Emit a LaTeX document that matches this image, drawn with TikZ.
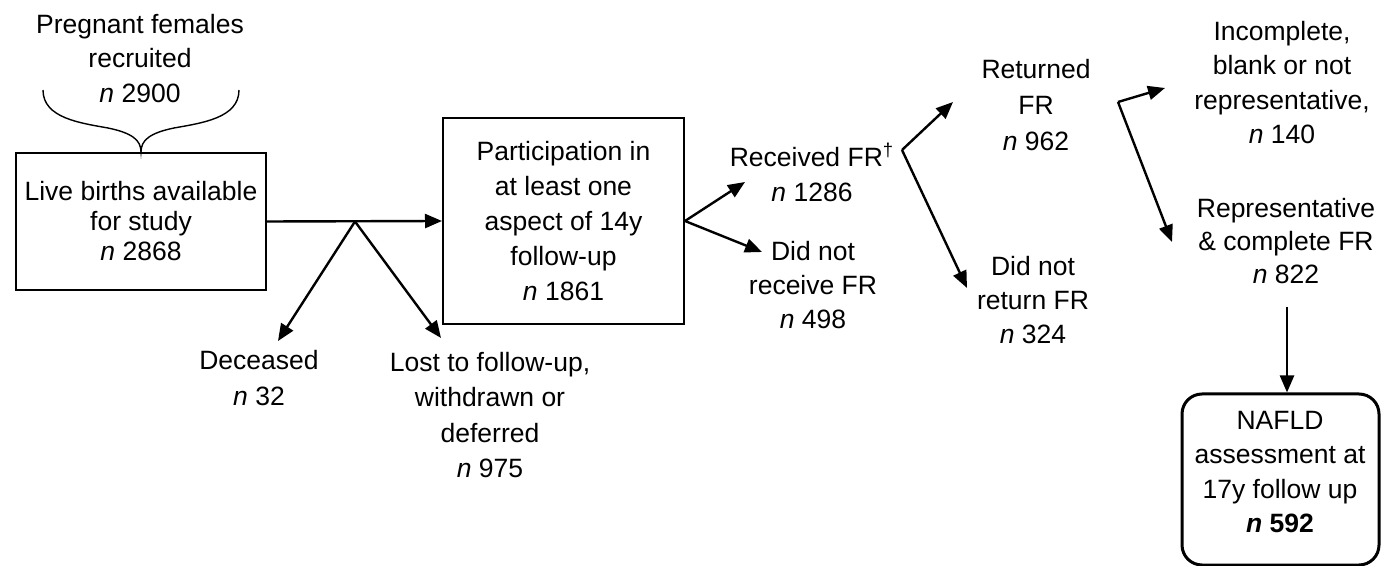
\documentclass[tikz,border=0pt]{standalone}
\usepackage{fontspec}
\setmainfont{Liberation Sans}
\usetikzlibrary{arrows.meta}
\begin{document}
\begin{tikzpicture}[x=0.5pt,y=-0.5pt,
  arr/.style={line width=1.2pt,-{Triangle[length=8.5pt,width=7pt]}},
  boxnode/.style={draw,line width=1pt,rectangle,inner sep=0pt,align=center},
  txt/.style={anchor=north,inner sep=0pt,align=center},
  bs/.style={font=\fontsize{13.25pt}{#1}\selectfont},
  brace/.style={line width=0.7pt}]
\useasboundingbox (0,0) rectangle (1381,566);

% nodes
\node[txt,bs=17.25pt] (preg) at (140,13.5) {Pregnant females\\recruited\\\textit{n} 2900};
\node[boxnode,bs=15pt,minimum width=125pt,minimum height=68.5pt] (live) at (141,221.5)
  {Live births available\\for study\\\textit{n} 2868};
\node[boxnode,bs=17.5pt,minimum width=120.5pt,minimum height=103pt] (part) at (563.5,221)
  {Participation in\\at least one\\aspect of 14y\\follow-up\\\textit{n} 1861};
\node[txt,bs=18pt] (dec) at (259,349.5) {Deceased\\\textit{n} 32};
\node[txt,bs=17.75pt] (lost) at (490,351.5) {Lost to follow-up,\\withdrawn or\\deferred\\\textit{n} 975};
\node[txt,bs=17.5pt] (recv) at (812,142.5) {Received FR\textsuperscript{†}\\\textit{n} 1286};
\node[txt,bs=17pt] (nrecv) at (813,240.5) {Did not\\receive FR\\\textit{n} 498};
\node[txt,bs=18pt] (ret) at (1036,58.5) {Returned\\FR\\\textit{n} 962};
\node[txt,bs=17pt] (nret) at (1033,255.5) {Did not\\return FR\\\textit{n} 324};
\node[txt,bs=17.25pt] (inc) at (1282,20.5) {Incomplete,\\blank or not\\representative,\\\textit{n} 140};
\node[txt,bs=16.5pt] (rep) at (1286,197.5) {Representative\\\& complete FR\\\textit{n} 822};
\node[draw,line width=1.5pt,rounded corners=10pt,minimum width=98.5pt,minimum height=85.5pt,inner sep=0pt] (nafld) at (1280.5,479.5) {};
\node[txt,bs=17.25pt] (nafldtext) at (1280,410.5) {NAFLD\\assessment at\\17y follow up\\\textbf{\textit{n} 592}};

% coordinates
\coordinate (b1) at (355,221.5);
\coordinate (dectip) at (278,341);
\coordinate (losttip) at (441,338);
\coordinate (recvtip) at (745,182);
\coordinate (nrecvtip) at (762,252);
\coordinate (b3) at (902,150);
\coordinate (rettip) at (953,102);
\coordinate (nrettip) at (967,288);
\coordinate (b4) at (1118,102);
\coordinate (inctip) at (1165,88);
\coordinate (reptip) at (1172,242);
\coordinate (vtop) at (1287,307);

% brace
\draw[brace] (43,90) .. controls (43,118) and (80,123) .. (108,128)
  .. controls (132,133) and (141,140) .. (live.north)
  .. controls (141,140) and (150,133) .. (174,128)
  .. controls (202,123) and (239,118) .. (239,90);

% connectors
\draw[arr] (live.east) -- (part.west);
\draw[arr] (b1) -- (dectip);
\draw[arr] (b1) -- (losttip);
\draw[arr] (part.east) -- (recvtip);
\draw[arr] (part.east) -- (nrecvtip);
\draw[arr] (b3) -- (rettip);
\draw[arr] (b3) -- (nrettip);
\draw[arr] (b4) -- (inctip);
\draw[arr] (b4) -- (reptip);
\draw[arr] (vtop) -- (vtop |- nafld.north);
\end{tikzpicture}
\end{document}
